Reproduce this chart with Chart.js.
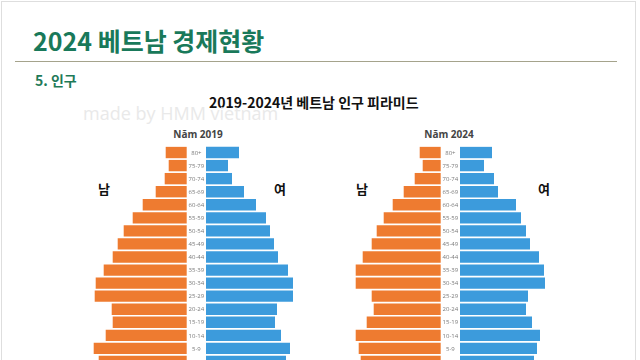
<!DOCTYPE html>
<html>
<head>
<meta charset="utf-8">
<script src="https://cdn.jsdelivr.net/npm/chart.js@4.4.1/dist/chart.umd.min.js"></script>
<style>
  html, body { margin: 0; padding: 0; background: #fff; }
  #slide { position: relative; width: 640px; height: 360px; overflow: hidden; background: #fff; font-family: "Noto Sans CJK KR", "Noto Sans", sans-serif; }
  .abs { position: absolute; white-space: nowrap; }
  #frame { position: absolute; left: 1px; top: 1px; width: 633px; height: 400px; border: 1px solid #dedede; }
  #title { left: 33px; top: 23px; font-size: 25px; font-weight: 700; color: #19795a; line-height: 34px; }
  #rule { position: absolute; left: 15px; top: 61px; width: 602px; height: 0; border-top: 1.5px solid #a5a38c; }
  #section { left: 35px; top: 70px; font-size: 14px; font-weight: 700; color: #1f7a58; line-height: 20px; }
  #ctitle { left: 209px; top: 93px; font-size: 14px; font-weight: 700; color: #111; line-height: 18px; }
  #wm { left: 83px; top: 101px; font-family: "Open Sans", sans-serif; font-size: 18px; color: #e9e9e9; line-height: 24px; }
  .yr { font-family: "Open Sans", sans-serif; font-size: 10px; font-weight: 700; color: #444; line-height: 14px; transform: translateX(-50%); }
  .sx { font-size: 13px; font-weight: 700; color: #111; line-height: 18px; transform: translateX(-50%); }
  canvas { position: absolute; }
</style>
</head>
<body>
<div id="slide">
  <div id="frame"></div>
  <div id="title" class="abs">2024 베트남 경제현황</div>
  <div id="rule"></div>
  <div id="section" class="abs">5. 인구</div>
  <div id="ctitle" class="abs">2019-2024년 베트남 인구 피라미드</div>
  <div id="wm" class="abs">made by HMM vietnam</div>
  <div class="abs yr" style="left:198px; top:127px;">Năm 2019</div>
  <div class="abs yr" style="left:449px; top:127px;">Năm 2024</div>
  <div class="abs sx" style="left:104px; top:180px;">남</div>
  <div class="abs sx" style="left:280px; top:180px;">여</div>
  <div class="abs sx" style="left:362px; top:180px;">남</div>
  <div class="abs sx" style="left:544px; top:180px;">여</div>
  <canvas id="c2019" width="270" height="222" style="left:60px; top:146px;"></canvas>
  <canvas id="c2024" width="270" height="222" style="left:330px; top:146px;"></canvas>
</div>
<script>
// ---- data ----
const ageGroups = ["80+", "75-79", "70-74", "65-69", "60-64", "55-59", "50-54", "45-49", "40-44",
                   "35-39", "30-34", "25-29", "20-24", "15-19", "10-14", "5-9", "0-4"];
const male2019   = [21, 18, 22, 31, 44, 54, 63, 69, 74, 83, 91, 92, 75, 74, 81, 93, 88];
const female2019 = [33, 22, 26, 38, 50, 60, 64, 68, 72, 82, 87, 87, 71, 69, 75, 84, 80];
const male2024   = [21, 18, 26, 37, 48, 57, 64, 69, 78, 85, 85, 69, 67, 74, 85, 82, 80];
const female2024 = [32, 24, 34, 38, 56, 61, 66, 70, 79, 84, 85, 68, 66, 72, 80, 77, 74];

const GAP = 9.65;           // half-width of the centre label gap (scale units)
const ORANGE = "#ee7b30";
const BLUE = "#3c9bdc";

const centreLabels = {
  id: "centreLabels",
  afterDatasetsDraw(chart) {
    const ctx = chart.ctx;
    const xs = chart.scales.x, ys = chart.scales.y;
    ctx.save();
    ctx.font = "6px 'Open Sans', sans-serif";
    ctx.fillStyle = "#7a7a7a";
    ctx.textAlign = "center";
    ctx.textBaseline = "middle";
    ageGroups.forEach((g, i) => {
      ctx.fillText(g, xs.getPixelForValue(0), ys.getPixelForValue(i) + 0.5);
    });
    ctx.restore();
  }
};

function pyramid(id, male, female, xmin, xmax) {
  new Chart(document.getElementById(id), {
    type: "bar",
    data: {
      labels: ageGroups,
      datasets: [
        { label: "남", data: male.map(v => [-(GAP + v), -GAP]), backgroundColor: ORANGE, grouped: false },
        { label: "여", data: female.map(v => [GAP, GAP + v]), backgroundColor: BLUE, grouped: false }
      ]
    },
    options: {
      indexAxis: "y",
      responsive: false,
      animation: false,
      devicePixelRatio: 1,
      layout: { padding: 0 },
      datasets: { bar: { barPercentage: 0.87, categoryPercentage: 1.0, borderWidth: 0 } },
      scales: {
        x: { display: false, min: xmin, max: xmax },
        y: { display: false, offset: true }
      },
      plugins: { legend: { display: false }, tooltip: { enabled: false } }
    },
    plugins: [centreLabels]
  });
}

pyramid("c2019", male2019, female2019, 60 - 196.35, 330 - 196.35);
pyramid("c2024", male2024, female2024, 330 - 450.35, 600 - 450.35);
</script>
</body>
</html>
